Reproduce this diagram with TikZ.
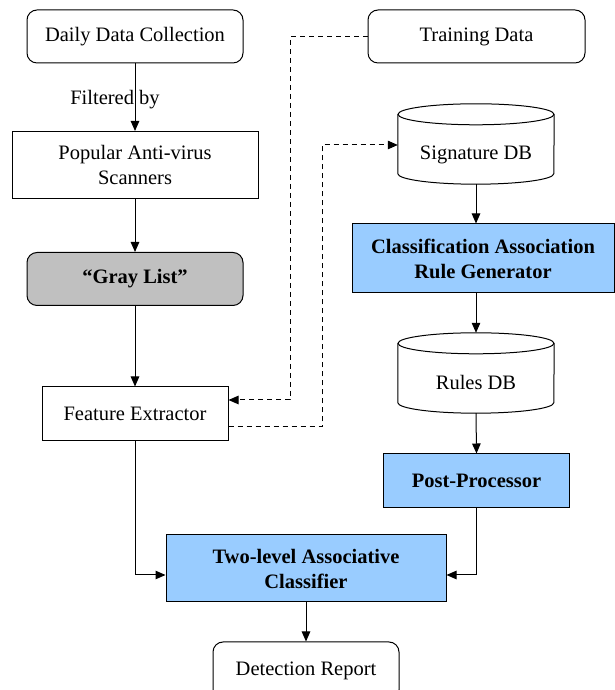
\documentclass[tikz,border=0pt]{standalone}
\usepackage{fontspec}
\setmainfont{Liberation Serif}
\usetikzlibrary{arrows.meta,calc}

\definecolor{procblue}{HTML}{99CCFF}
\definecolor{listgray}{HTML}{C0C0C0}

\tikzset{
  box/.style={draw=black, line width=1pt, fill=white, inner sep=0pt, align=center,
    font=\fontsize{20.5}{25}\selectfont},
  roundbox/.style={box, rounded corners=10pt},
  procbox/.style={box, fill=procblue, font=\fontsize{20.5}{25}\selectfont\bfseries},
  graybox/.style={roundbox, fill=listgray, font=\fontsize{20.5}{25}\selectfont\bfseries},
  dbnode/.style={inner sep=0pt, minimum width=156pt, minimum height=80pt},
  flow/.style={line width=1pt, -{Triangle[length=10pt,width=8.5pt]}},
  dflow/.style={flow, dash pattern=on 5pt off 4pt},
  dline/.style={line width=1pt, dash pattern=on 5pt off 4pt},
  lbl/.style={inner sep=0pt, font=\fontsize{20.5}{25}\selectfont}
}

% draws a database cylinder filling a dbnode
\newcommand{\dbcyl}[1]{%
  \draw[line width=1pt, fill=white]
    ($(#1.north west)+(0,-10.5)$) -- ($(#1.south west)+(0,10.5)$)
    arc[start angle=180, end angle=360, x radius=78pt, y radius=10.5pt]
    -- ($(#1.north east)+(0,-10.5)$);
  \draw[line width=1pt, fill=white]
    ($(#1.north)+(0,-10.5)$) ellipse[x radius=78pt, y radius=10.5pt];
}

\begin{document}
\begin{tikzpicture}[x=1pt, y=1pt]
\useasboundingbox (0,0) rectangle (615,690);
\clip (0,0) rectangle (615,690);

% left column
\node[roundbox, minimum width=216pt, minimum height=53pt] (ddc) at (135,653.5) {Daily Data Collection};
\node[box, minimum width=246pt, minimum height=67pt] (pop) at (135,525) {Popular Anti-virus\\Scanners};
\node[graybox, minimum width=216pt, minimum height=53pt] (gray) at (135,411) {“Gray List”};
\node[box, minimum width=186pt, minimum height=54pt] (fe) at (135,276) {Feature Extractor};
\node[lbl] (filt) at (115,590) {Filtered by};

% right column
\node[roundbox, minimum width=217pt, minimum height=53pt] (td) at (476.5,653.5) {Training Data};
\node[dbnode] (sig) at (476,546) {};
\dbcyl{sig}
\node[lbl] (sigt) at (476,535) {Signature DB};
\node[procbox, minimum width=262pt, minimum height=69pt] (carg) at (483,431.5) {Classification Association\\Rule Generator};
\node[dbnode] (rules) at (476,317) {};
\dbcyl{rules}
\node[lbl] (rulest) at (476,308) {Rules DB};
\node[procbox, minimum width=186pt, minimum height=54pt] (pp) at (476.5,209) {Post-Processor};

% bottom
\node[procbox, minimum width=280pt, minimum height=67pt] (tl) at (306,121.5) {Two-level Associative\\Classifier};
\node[roundbox, minimum width=186pt, minimum height=58pt] (dr) at (306,19) {Detection Report};

% solid connectors
\draw[flow] (ddc.south) -- (pop.north);
\draw[flow] (pop.south) -- (gray.north);
\draw[flow] (gray.south) -- (fe.north);
\draw[flow] (sig.south) -- (sig.south |- carg.north);
\draw[flow] (sig.south |- carg.south) -- (rules.north);
\draw[flow] (rules.south) -- (pp.north);
\draw[flow] (fe.south) |- ($(tl.west)+(0,-6.5)$);
\draw[flow] (pp.south) |- ($(tl.east)+(0,-6.5)$);
\draw[flow] (tl.south) -- (dr.north);

% dashed connectors
\coordinate (c1) at (290,653.5);
\coordinate (c2) at (322,545);
\draw[dflow] (td.west) -- (c1) |- ($(fe.east)+(0,14)$);
\draw[dflow] ($(fe.east)+(0,-13)$) -| (c2) -- (c2 -| sig.west);
\end{tikzpicture}
\end{document}
